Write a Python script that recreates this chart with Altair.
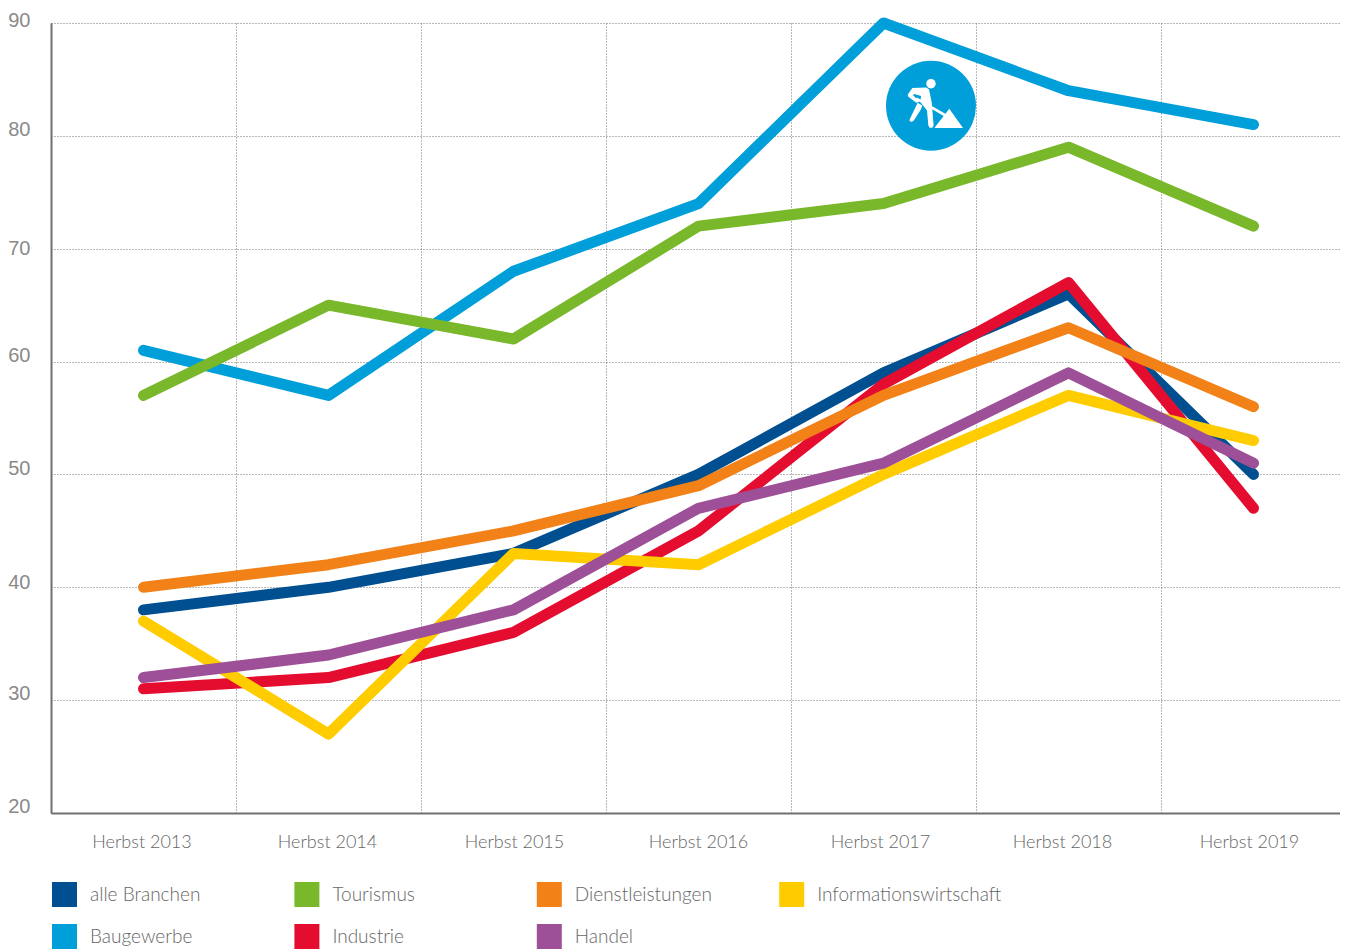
import altair as alt
import pandas as pd

years = ["Herbst 2013", "Herbst 2014", "Herbst 2015", "Herbst 2016", "Herbst 2017", "Herbst 2018", "Herbst 2019"]
alle = [38, 40, 43, 50, 59, 66, 50]
bau = [61, 57, 68, 74, 90, 84, 81]
tourismus = [57, 65, 62, 72, 74, 79, 72]
industrie = [31, 32, 36, 45, 58, 67, 47]
dienst = [40, 42, 45, 49, 57, 63, 56]
info = [37, 27, 43, 42, 50, 57, 53]
handel = [32, 34, 38, 47, 51, 59, 51]

# draw order (first = bottom)
series = [("alle Branchen", alle), ("Baugewerbe", bau), ("Tourismus", tourismus), ("Industrie", industrie),
          ("Dienstleistungen", dienst), ("Informationswirtschaft", info), ("Handel", handel)]
legend_order = ["alle Branchen", "Baugewerbe", "Tourismus", "Industrie",
                "Dienstleistungen", "Handel", "Informationswirtschaft"]
legend_colors = ["#004f91", "#009fd9", "#78b82a", "#e40d30", "#f28118", "#9d5097", "#ffcc00"]

rows = []
for name, vals in series:
    for y, v in zip(years, vals):
        rows.append({"jahr": y, "serie": name, "wert": v})
df = pd.DataFrame(rows)

FONT = "Lato"
GREY = "#666666"

def P(pts):
    return "M" + "L".join(f"{(x-92)/135:.3f} {(y-101)/135:.3f}" for x, y in pts) + "Z"

worker = " ".join([
    P([(36,48),(78,46),(86,52),(94,90),(100,160),(96,167),(88,167),(84,160),(80,115),(60,90),(62,72),(42,66),(38,70),(52,82),(56,90),(48,92),(24,74),(22,68)]),
    P([(52,92),(66,100),(62,112),(40,146),(33,150),(27,145),(30,138)]),
    P([(46,82),(50,76),(135,125),(130,132)]),
    P([(102,168),(147,110),(188,168)]),
    "M-0.104 -0.489a0.104 0.104 0 1 0 0.208 0a0.104 0.104 0 1 0 -0.208 0Z",
])

x = alt.X("jahr:N", title=None, sort=years,
          scale=alt.Scale(type="band", paddingInner=0, paddingOuter=0, domain=years),
          axis=alt.Axis(labelAngle=0, ticks=False, tickBand="extent", grid=True, gridColor="#707070",
                        gridDash=[1, 2], gridWidth=1, domainColor="#707070", domainWidth=2,
                        labelFont=FONT, labelFontSize=18, labelFontWeight=300, labelColor=GREY,
                        labelPadding=20, labelLimit=300,
                        labelOffset=alt.ExprRef("{'Herbst 2013':-2,'Herbst 2014':-1.5,'Herbst 2015':0.5,'Herbst 2016':-0.5,'Herbst 2017':-3.5,'Herbst 2018':-6.5,'Herbst 2019':-4.5}[datum.label]")))
y = alt.Y("wert:Q", title=None, scale=alt.Scale(domain=[20, 90], nice=False, zero=False),
          axis=alt.Axis(values=[20, 30, 40, 50, 60, 70, 80, 90], ticks=False, grid=True, gridColor="#707070",
                        gridDash=[1, 2], gridWidth=1, domainColor="#707070", domainWidth=2,
                        labelFont="Liberation Sans", labelFontSize=20, labelColor="#8a8a8a",
                        labelPadding=21,
                        labelOffset=alt.ExprRef("{'20':-7,'30':-7,'40':-5,'50':-6,'60':-6,'70':0,'80':-6,'90':-3}[datum.label]")))

color_scale = alt.Scale(domain=legend_order, range=legend_colors)

lines = alt.Chart(df).mark_line(strokeWidth=11, strokeCap="round", strokeJoin="round").encode(
    x=x, y=y,
    color=alt.Color("serie:N", sort=legend_order, scale=color_scale, legend=None),
    detail="serie:N",
)

legend_layer = alt.Chart(df).mark_square(size=625, opacity=0, filled=True).encode(
    x=x, y=y,
    color=alt.Color("serie:N", sort=legend_order, scale=color_scale,
                    legend=alt.Legend(title=None, orient="none", legendX=1, legendY=859, columns=4,
                                      symbolType="square", symbolSize=625, symbolStrokeWidth=0,
                                      symbolOpacity=1, gridAlign="all", columnPadding=19.4, rowPadding=17,
                                      labelFont=FONT, labelFontSize=19, labelFontWeight=300,
                                      labelColor=GREY, labelLimit=400, labelOffset=13)),
)

icon_df = pd.DataFrame({"jahr": ["Herbst 2017"], "wert": [82.67]})
badge = alt.Chart(icon_df).mark_circle(size=8100, color="#009fd9", opacity=1, xOffset=47.5).encode(x=x, y=y)
figure = alt.Chart(icon_df).mark_point(shape=worker, size=8100, filled=True, fill="#ffffff", opacity=1,
                                       strokeWidth=0, xOffset=47.5).encode(x=x, y=y)

chart = alt.layer(legend_layer, lines, badge, figure).properties(
    width=1295, height=790,
    padding={"left": 43, "top": 15, "right": -6, "bottom": 136},
    autosize=alt.AutoSizeParams(type="none"),
).configure_view(stroke=None)

chart.save("out.html", embed_options={"renderer": "svg", "actions": False})
